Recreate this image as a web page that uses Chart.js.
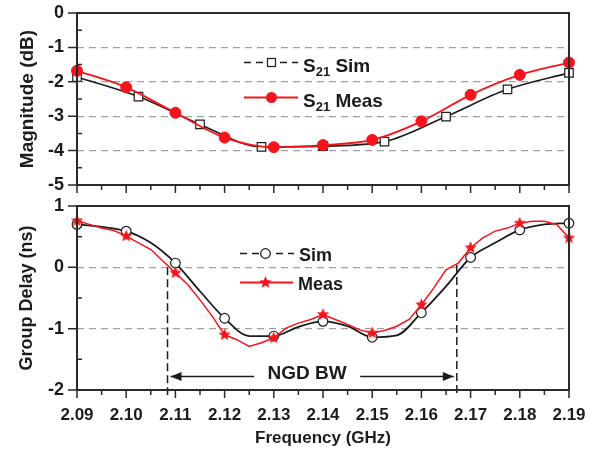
<!DOCTYPE html>
<html>
<head>
<meta charset="utf-8">
<script src="https://cdn.jsdelivr.net/npm/chart.js@4.4.1/dist/chart.umd.min.js"></script>
<style>
  html, body { margin: 0; padding: 0; background: #fff; }
  #wrap { position: relative; width: 598px; height: 457px; }
  #wrap canvas { position: absolute; left: 0; top: 0; }
</style>
</head>
<body>
<div id="wrap">
  <canvas id="magChart" width="598" height="457"></canvas>
  <canvas id="gdChart" width="598" height="457"></canvas>
</div>
<script>
// axis ticks
var freqTicks = [2.09, 2.10, 2.11, 2.12, 2.13, 2.14, 2.15, 2.16, 2.17, 2.18, 2.19];
var magTicks = [-5, -4, -3, -2, -1, 0];
var gdTicks = [-2, -1, 0, 1];

// S21 magnitude (dB)
var s21SimFreq = [2.09, 2.1025, 2.115, 2.1275, 2.14, 2.1525, 2.165, 2.1775, 2.19];
var s21Sim = [-1.86, -2.43, -3.24, -3.89, -3.87, -3.74, -3.01, -2.22, -1.74];
var s21MeasFreq = [2.09, 2.10, 2.11, 2.12, 2.13, 2.14, 2.15, 2.16, 2.17, 2.18, 2.19];
var s21Meas = [-1.68, -2.16, -2.90, -3.62, -3.90, -3.84, -3.69, -3.15, -2.38, -1.80, -1.44];

// group delay (ns)
var gdSimFreq = [2.09, 2.095, 2.10, 2.105, 2.11, 2.115, 2.12, 2.125, 2.13, 2.135, 2.14,
                 2.145, 2.15, 2.155, 2.16, 2.165, 2.17, 2.175, 2.18, 2.185, 2.19];
var gdSim = [0.70, 0.66, 0.59, 0.40, 0.07, -0.39, -0.83, -1.12, -1.12, -0.97, -0.88,
             -0.96, -1.14, -1.11, -0.74, -0.31, 0.16, 0.40, 0.61, 0.70, 0.72];
var gdMeasFreq = [2.09, 2.0925, 2.095, 2.0975, 2.10, 2.1025, 2.105, 2.1075, 2.11, 2.1125,
                  2.115, 2.1175, 2.12, 2.1225, 2.125, 2.1275, 2.13, 2.1325, 2.135, 2.1375,
                  2.14, 2.1425, 2.145, 2.1475, 2.15, 2.1525, 2.155, 2.1575, 2.16, 2.1625,
                  2.165, 2.1675, 2.17, 2.1725, 2.175, 2.1775, 2.18, 2.1825, 2.185, 2.1875, 2.19];
var gdMeas = [0.76, 0.70, 0.64, 0.60, 0.51, 0.40, 0.29, 0.10, -0.09, -0.28,
              -0.53, -0.80, -1.10, -1.18, -1.29, -1.23, -1.15, -0.99, -0.91, -0.85,
              -0.77, -0.85, -0.93, -1.02, -1.07, -1.03, -0.96, -0.85, -0.61, -0.34,
              -0.04, 0.07, 0.32, 0.48, 0.59, 0.64, 0.72, 0.75, 0.75, 0.70, 0.48];

// NGD bandwidth edges (GHz) and where the markers start (ns)
var ngdBand = [2.1084, 2.1672];
var ngdStart = [0, 0.04];

var measRed = '#f5141b';
var ink = '#1c1c1c';
var family = '"Liberation Sans", Arial, Helvetica, sans-serif';

function toXY(xs, ys) {
  return xs.map(function (x, i) { return { x: x, y: ys[i] }; });
}

function makeStar(r) {
  var s = Math.ceil(r * 2 + 2);
  var c = document.createElement('canvas');
  c.width = s; c.height = s;
  var g = c.getContext('2d');
  g.fillStyle = measRed;
  g.beginPath();
  for (var i = 0; i < 10; i++) {
    var rr = i % 2 === 0 ? r : r * 0.45;
    var ang = -Math.PI / 2 + i * Math.PI / 5;
    g.lineTo(s / 2 + rr * Math.cos(ang), s / 2 + rr * Math.sin(ang));
  }
  g.closePath();
  g.fill();
  return c;
}
var star = makeStar(6.5);

// outward major / inward minor tick marks plus the frame
var axisMarks = {
  id: 'axisMarks',
  afterDraw: function (chart, args, opts) {
    var ctx = chart.ctx, a = chart.chartArea;
    var xs = chart.scales.x, ys = chart.scales.y;
    ctx.save();
    ctx.strokeStyle = '#2a2a2a';
    ctx.lineWidth = 1.5;
    ctx.beginPath();
    freqTicks.forEach(function (f, i) {
      var p = xs.getPixelForValue(f);
      ctx.moveTo(p, a.bottom); ctx.lineTo(p, a.bottom + 8);
      if (i < freqTicks.length - 1) {
        var m = xs.getPixelForValue((f + freqTicks[i + 1]) / 2);
        ctx.moveTo(m, a.bottom); ctx.lineTo(m, a.bottom + 5);
      }
    });
    var yt = opts.ticks;
    yt.forEach(function (v, i) {
      var p = ys.getPixelForValue(v);
      ctx.moveTo(a.left - 9, p); ctx.lineTo(a.left, p);
      if (i < yt.length - 1) {
        var m = ys.getPixelForValue((v + yt[i + 1]) / 2);
        ctx.moveTo(a.left, m); ctx.lineTo(a.left + 5, m);
      }
    });
    ctx.stroke();
    ctx.lineWidth = 2;
    ctx.strokeRect(a.left, a.top, a.width, a.height);
    ctx.restore();
  }
};

function drawLabel(ctx, x, y, main, sub, rest, size) {
  ctx.fillStyle = ink;
  ctx.textBaseline = 'alphabetic';
  ctx.textAlign = 'left';
  ctx.font = 'bold ' + size + 'px ' + family;
  ctx.fillText(main, x, y);
  x += ctx.measureText(main).width;
  if (sub) {
    ctx.font = 'bold 13px ' + family;
    ctx.fillText(sub, x, y + 4.5);
    x += ctx.measureText(sub).width;
    ctx.font = 'bold ' + size + 'px ' + family;
  }
  ctx.fillText(rest, x, y);
}

function legendLine(ctx, x1, x2, y, color, dash, width) {
  ctx.save();
  ctx.strokeStyle = color;
  ctx.lineWidth = width;
  ctx.setLineDash(dash);
  ctx.beginPath();
  ctx.moveTo(x1, y); ctx.lineTo(x2, y);
  ctx.stroke();
  ctx.restore();
}

var magLegend = {
  id: 'magLegend',
  afterDraw: function (chart) {
    var ctx = chart.ctx;
    ctx.save();
    legendLine(ctx, 244, 298, 62.5, ink, [7, 5], 1.5);
    ctx.fillStyle = '#fff';
    ctx.strokeStyle = ink;
    ctx.lineWidth = 1.2;
    ctx.fillRect(267.5, 58.5, 8, 8);
    ctx.strokeRect(267.5, 58.5, 8, 8);
    drawLabel(ctx, 303, 71.5, 'S', '21', ' Sim', 19);

    legendLine(ctx, 244, 298, 97.5, measRed, [], 1.8);
    ctx.fillStyle = measRed;
    ctx.beginPath();
    ctx.arc(271.5, 97.5, 5.5, 0, Math.PI * 2);
    ctx.fill();
    drawLabel(ctx, 303, 106.5, 'S', '21', ' Meas', 19);
    ctx.restore();
  }
};

var gdLegend = {
  id: 'gdLegend',
  afterDraw: function (chart) {
    var ctx = chart.ctx;
    ctx.save();
    legendLine(ctx, 240, 294, 253.5, ink, [7, 5], 1.5);
    ctx.fillStyle = '#fff';
    ctx.strokeStyle = ink;
    ctx.lineWidth = 1.2;
    ctx.beginPath();
    ctx.arc(265.5, 253.5, 4.8, 0, Math.PI * 2);
    ctx.fill(); ctx.stroke();
    drawLabel(ctx, 299, 260.5, 'Sim', '', '', 18);

    legendLine(ctx, 240, 293, 282.5, measRed, [], 1.8);
    ctx.drawImage(star, 265.5 - star.width / 2, 282.5 - star.height / 2);
    drawLabel(ctx, 298, 289.5, 'Meas', '', '', 18);
    ctx.restore();
  }
};

// NGD bandwidth markers and arrows
var ngdMarks = {
  id: 'ngdMarks',
  afterDatasetsDraw: function (chart) {
    var ctx = chart.ctx, xs = chart.scales.x, ys = chart.scales.y;
    var xl = xs.getPixelForValue(ngdBand[0]), xr = xs.getPixelForValue(ngdBand[1]);
    var yb = ys.getPixelForValue(-2) + 5;
    ctx.save();
    ctx.strokeStyle = ink;
    ctx.lineWidth = 1.5;
    ctx.setLineDash([8, 4]);
    ctx.beginPath();
    ctx.moveTo(xl, ys.getPixelForValue(ngdStart[0])); ctx.lineTo(xl, yb);
    ctx.moveTo(xr, ys.getPixelForValue(ngdStart[1])); ctx.lineTo(xr, yb);
    ctx.stroke();
    ctx.setLineDash([]);

    var ya = ys.getPixelForValue(-1.78);
    var xm = (xl + xr) / 2;
    ctx.lineWidth = 1.6;
    ctx.beginPath();
    ctx.moveTo(xl + 3, ya); ctx.lineTo(xm - 58, ya);
    ctx.moveTo(xm + 48, ya); ctx.lineTo(xr - 3, ya);
    ctx.stroke();
    ctx.fillStyle = ink;
    ctx.beginPath();
    ctx.moveTo(xl + 3, ya); ctx.lineTo(xl + 14, ya - 4.5); ctx.lineTo(xl + 14, ya + 4.5);
    ctx.closePath();
    ctx.moveTo(xr - 3, ya); ctx.lineTo(xr - 14, ya - 4.5); ctx.lineTo(xr - 14, ya + 4.5);
    ctx.closePath();
    ctx.fill();

    ctx.font = 'bold 19px ' + family;
    ctx.textAlign = 'center';
    ctx.textBaseline = 'middle';
    ctx.fillText('NGD BW', xm - 5, ya - 3);
    ctx.restore();
  }
};

function yScale(ticks, title, titleSize) {
  var lo = ticks[0], hi = ticks[ticks.length - 1];
  return {
    type: 'linear',
    min: lo, max: hi,
    afterBuildTicks: function (s) { s.ticks = ticks.map(function (v) { return { value: v }; }); },
    afterFit: function (s) { s.width = 77; s.paddingTop = 0; s.paddingBottom = 0; },
    border: { display: false, dash: [7, 5] },
    grid: {
      drawTicks: false,
      lineWidth: 1.3,
      color: function (c) {
        if (!c.tick || c.tick.value === lo || c.tick.value === hi) return 'rgba(0,0,0,0)';
        return '#a0a0a0';
      }
    },
    ticks: {
      padding: 13,
      color: ink,
      font: { family: family, size: 18, weight: 'bold' },
      callback: function (v) { return String(v); }
    },
    title: {
      display: true, text: title, color: ink,
      font: { family: family, size: titleSize, weight: 'bold' },
      padding: { top: 16, bottom: 0 }
    }
  };
}

Chart.defaults.animation = false;

new Chart(document.getElementById('magChart'), {
  type: 'line',
  data: {
    datasets: [
      {
        label: 'S21 Meas',
        data: toXY(s21MeasFreq, s21Meas),
        borderColor: measRed, borderWidth: 1.8,
        cubicInterpolationMode: 'monotone',
        pointStyle: 'circle', pointRadius: 5.5,
        pointBackgroundColor: measRed, pointBorderColor: measRed, pointBorderWidth: 1,
        clip: false, order: 0
      },
      {
        label: 'S21 Sim',
        data: toXY(s21SimFreq, s21Sim),
        borderColor: ink, borderWidth: 1.6,
        cubicInterpolationMode: 'monotone',
        pointStyle: 'rect', pointRadius: 6,
        pointBackgroundColor: '#fff', pointBorderColor: ink, pointBorderWidth: 1.2,
        clip: false, order: 1
      }
    ]
  },
  options: {
    responsive: false,
    layout: { padding: { top: 13, left: 0, right: 29, bottom: 272 } },
    plugins: { legend: { display: false }, tooltip: { enabled: false }, axisMarks: { ticks: magTicks } },
    scales: {
      x: {
        type: 'linear', min: 2.09, max: 2.19, display: false,
        afterFit: function (s) { s.paddingLeft = 0; s.paddingRight = 0; }
      },
      y: yScale(magTicks, 'Magnitude (dB)', 19)
    }
  },
  plugins: [axisMarks, magLegend]
});

new Chart(document.getElementById('gdChart'), {
  type: 'line',
  data: {
    datasets: [
      {
        label: 'Meas',
        data: toXY(gdMeasFreq, gdMeas),
        borderColor: measRed, borderWidth: 1.5,
        tension: 0,
        pointStyle: star,
        pointRadius: function (c) { return c.dataIndex % 4 === 0 ? 6 : 0; },
        clip: false, order: 0
      },
      {
        label: 'Sim',
        data: toXY(gdSimFreq, gdSim),
        borderColor: ink, borderWidth: 1.8,
        cubicInterpolationMode: 'monotone',
        pointStyle: 'circle',
        pointRadius: function (c) { return c.dataIndex % 2 === 0 ? 4.8 : 0; },
        pointBackgroundColor: '#fff', pointBorderColor: ink, pointBorderWidth: 1.2,
        clip: false, order: 1
      }
    ]
  },
  options: {
    responsive: false,
    layout: { padding: { top: 206, left: 0, right: 29, bottom: 0 } },
    plugins: { legend: { display: false }, tooltip: { enabled: false }, axisMarks: { ticks: gdTicks } },
    scales: {
      x: {
        type: 'linear', min: 2.09, max: 2.19,
        afterBuildTicks: function (s) { s.ticks = freqTicks.map(function (v) { return { value: v }; }); },
        afterFit: function (s) { s.height = 67; s.paddingLeft = 0; s.paddingRight = 0; },
        border: { display: false },
        grid: { display: false, drawTicks: false },
        ticks: {
          padding: 15, color: ink, maxRotation: 0, autoSkip: false,
          font: { family: family, size: 17, weight: 'bold' },
          callback: function (v) { return v.toFixed(2); }
        },
        title: {
          display: true, text: 'Frequency (GHz)', color: ink,
          font: { family: family, size: 17, weight: 'bold' },
          padding: { top: 0, bottom: 8 }
        }
      },
      y: yScale(gdTicks, 'Group Delay (ns)', 18)
    }
  },
  plugins: [axisMarks, gdLegend, ngdMarks]
});
</script>
</body>
</html>
